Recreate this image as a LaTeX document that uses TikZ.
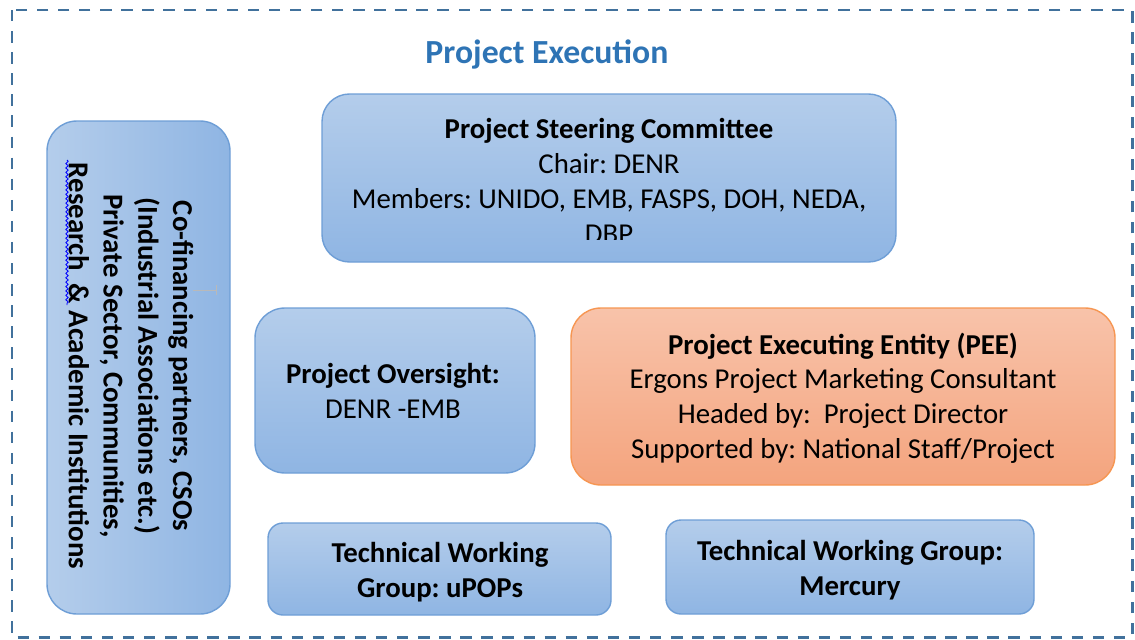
\documentclass[tikz,border=0pt]{standalone}
\usepackage{fontspec}
\setmainfont{Carlito}
\usetikzlibrary{decorations.pathmorphing}
\frenchspacing

\definecolor{boxtop}{RGB}{180,205,235}
\definecolor{boxbot}{RGB}{143,181,227}
\definecolor{boxline}{RGB}{110,158,214}
\definecolor{peetop}{RGB}{248,195,170}
\definecolor{peebot}{RGB}{244,164,126}
\definecolor{peeline}{RGB}{246,150,82}
\definecolor{framecol}{RGB}{65,113,156}
\definecolor{titleblue}{RGB}{46,116,181}

\tikzset{
	bluebox/.style={draw=boxline, line width=0.8pt, top color=boxtop, bottom color=boxbot},
	peebox/.style={draw=peeline, line width=0.8pt, top color=peetop, bottom color=peebot},
	boxtext/.style={align=center, inner sep=0pt, font=\fontsize{16.4}{19.8}\selectfont},
	boldtext/.style={boxtext, font=\fontsize{16.4}{19.8}\selectfont\bfseries},
}

\begin{document}
\begin{tikzpicture}[x=0.02cm, y=-0.02cm, line join=round]
	\useasboundingbox (0,0) rectangle (1135,639);
	% outer frame
	\draw[framecol, line width=1.7pt, dash pattern=on 6.5pt off 5.5pt] (12,10) rectangle (1132,637);
	\node[font=\fontsize{19.2}{22}\selectfont\bfseries, text=titleblue] (title) at (547,54) {Project Execution};
	
	% boxes
	\path[bluebox, left color=boxtop, right color=boxbot, rounded corners=0.6cm] (47,121) rectangle (230,614);
	\path[bluebox, rounded corners=0.55cm] (322,94) rectangle (896,262);
	\path[bluebox, rounded corners=0.6cm] (255,308) rectangle (535,473);
	\path[peebox, rounded corners=0.6cm] (571,308) rectangle (1115,485);
	\path[bluebox, rounded corners=0.3cm] (268,523) rectangle (611,615);
	\path[bluebox, rounded corners=0.3cm] (666,520) rectangle (1034,614);
	
	% texts
	\node[boldtext, rotate=-90] (cofin) at (131,366)
		{Co-financing partners, CSOs\\(Industrial Associations etc.)\\Private Sector, Communities,\\Research\ \ \& Academic Institutions};
	\draw[blue, line width=0.5pt, decorate, decoration={snake, amplitude=0.7pt, segment length=2.5pt}] (67,160) -- (67,305);
	\draw[gray!55, line width=0.5pt] (193,290) -- (216,290) (216,285) -- (216,295);
	
	\begin{scope}
		\clip (322,94) rectangle (896,239);
		\node[boxtext] (steering) at (609,181)
			{\textbf{Project Steering Committee}\\Chair: DENR\\Members: UNIDO, EMB, FASPS, DOH, NEDA,\\DBP};
	\end{scope}
	\node[boxtext] (oversight) at (393,391) {\textbf{Project Oversight:}\\DENR -EMB};
	\node[boxtext] (pee) at (843,398)
		{\textbf{Project Executing Entity (PEE)}\\Ergons Project Marketing Consultant\\Headed by:\ \ Project Director\\Supported by: National Staff/Project};
	\begin{scope}
		\clip (268,523) rectangle (611,601);
		\node[boldtext] (twgpops) at (440,572) {Technical Working\\Group: uPOPs};
	\end{scope}
	\node[boldtext] (twghg) at (850,570) {Technical Working Group:\\Mercury};
\end{tikzpicture}
\end{document}
